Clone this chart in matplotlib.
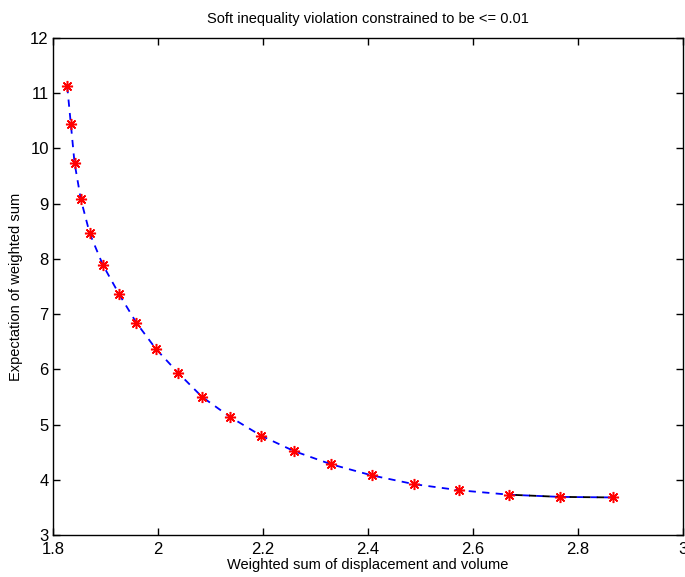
import matplotlib
matplotlib.use("Agg")
import matplotlib.pyplot as plt

plt.rcParams['font.family'] = ['Liberation Sans', 'DejaVu Sans']

x_vals = [1.827, 1.834, 1.841, 1.853, 1.870, 1.895, 1.926, 1.959, 1.996,
          2.039, 2.084, 2.137, 2.196, 2.259, 2.330, 2.407, 2.488, 2.574,
          2.669, 2.766, 2.867]
y_vals = [11.13, 10.44, 9.74, 9.08, 8.46, 7.89, 7.36, 6.84, 6.37,
          5.93, 5.50, 5.14, 4.80, 4.52, 4.28, 4.08, 3.92, 3.81,
          3.73, 3.69, 3.68]
x_ticks = [1.8, 2.0, 2.2, 2.4, 2.6, 2.8, 3.0]
x_tick_labels = ['1.8', '2', '2.2', '2.4', '2.6', '2.8', '3']
y_ticks = [3, 4, 5, 6, 7, 8, 9, 10, 11, 12]
title = 'Soft inequality violation constrained to be <= 0.01'
xlabel = 'Weighted sum of displacement and volume'
ylabel = 'Expectation of weighted sum'

fig = plt.figure(figsize=(6.85, 5.77), dpi=100)
ax = fig.add_axes([53/685, 1-535/577, (683-53)/685, (535-38)/577])

ax.plot(x_vals, y_vals, linestyle=(0, (4, 3.5)), color='blue', linewidth=1.3)
ax.plot(x_vals[-3:], y_vals[-3:], linestyle=(4, (4, 3.5)), color='black', linewidth=1.3)
ax.plot(x_vals, y_vals, linestyle='none', marker=(8, 2, 0), color='red',
        markersize=8, markeredgewidth=1.1)

ax.set_xlim(1.8, 3.0)
ax.set_ylim(3, 12)
ax.set_xticks(x_ticks)
ax.set_xticklabels(x_tick_labels)
ax.set_yticks(y_ticks)
ax.tick_params(direction='in', top=True, right=True, length=5, width=1,
               labelsize=12)
ax.tick_params(axis='x', pad=5)
ax.tick_params(axis='y', pad=3)
for s in ax.spines.values():
    s.set_linewidth(1.0)
ax.set_title(title, fontsize=10.5, pad=11)
ax.set_xlabel(xlabel, fontsize=10.5, labelpad=1)
ax.set_ylabel(ylabel, fontsize=10.5, labelpad=5)

fig.savefig('out.png', dpi=100)
